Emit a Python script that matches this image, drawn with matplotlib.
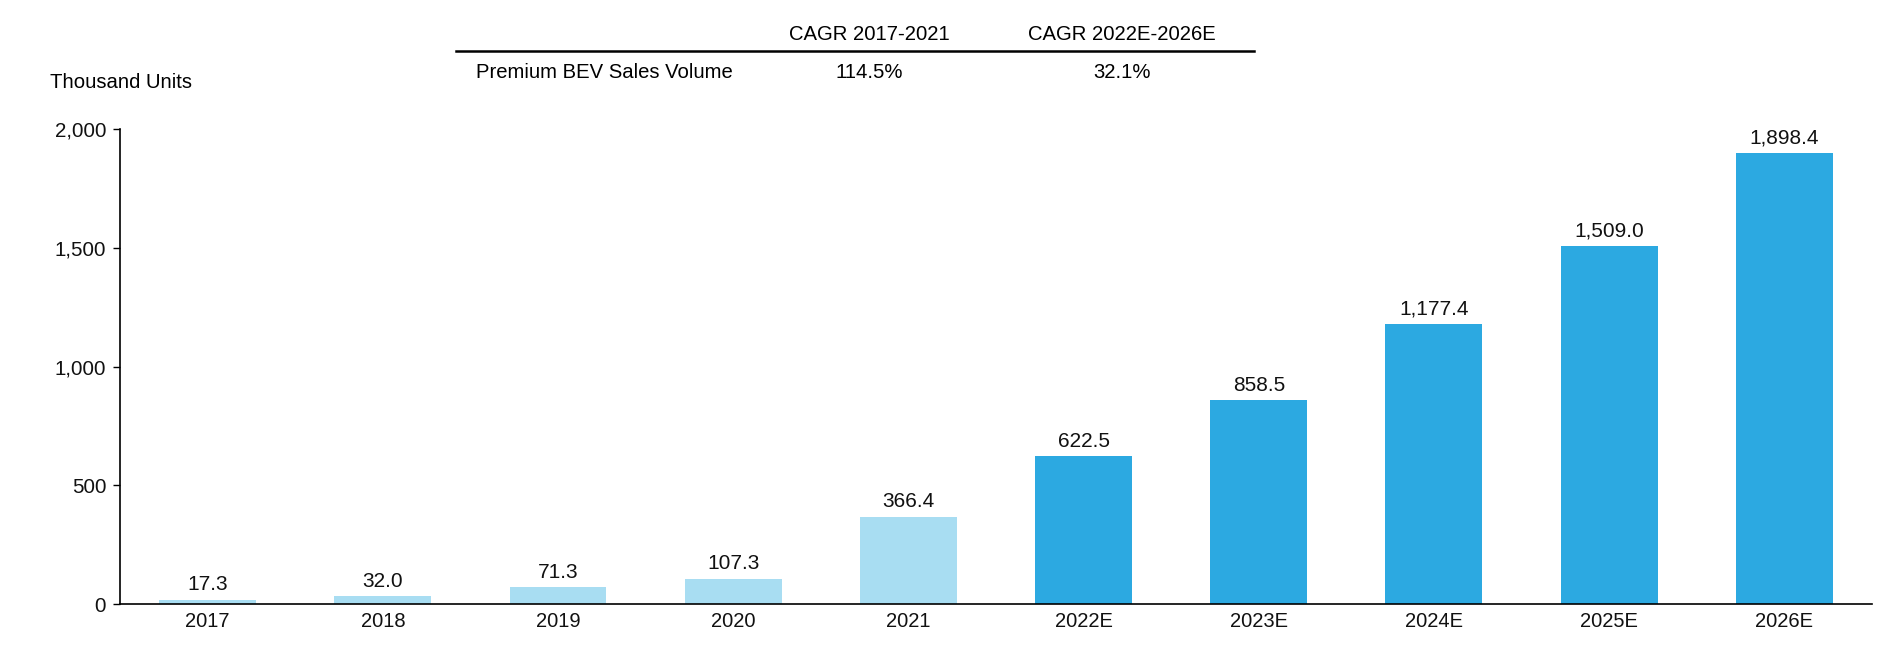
import matplotlib
matplotlib.use("Agg")
import matplotlib.pyplot as plt
from matplotlib.ticker import FuncFormatter

plt.rcParams["font.family"] = ["Liberation Sans", "DejaVu Sans"]

years = ["2017", "2018", "2019", "2020", "2021", "2022E", "2023E", "2024E", "2025E", "2026E"]
volumes = [17.3, 32.0, 71.3, 107.3, 366.4, 622.5, 858.5, 1177.4, 1509.0, 1898.4]
is_forecast = [False] * 5 + [True] * 5

cagr_headers = ["CAGR 2017-2021", "CAGR 2022E-2026E"]
cagr_row_label = "Premium BEV Sales Volume"
cagr_values = ["114.5%", "32.1%"]

LIGHT = "#A8DDF2"
DARK = "#2CA9E1"

fig = plt.figure(figsize=(19, 6.62), dpi=100)
ax = fig.add_axes([0.0632, 0.0876, 0.922, 0.7175])

colors = [DARK if f else LIGHT for f in is_forecast]
x = list(range(len(years)))
bars = ax.bar(x, volumes, width=0.553, color=colors)

for b, v in zip(bars, volumes):
    ax.annotate(f"{v:,.1f}", (b.get_x() + b.get_width() / 2, v),
                xytext=(0, 4), textcoords="offset points",
                ha="center", va="bottom", fontsize=15, color="#111111")

ax.set_xlim(-0.5, 9.5)
ax.set_ylim(0, 2000)
ax.set_yticks([0, 500, 1000, 1500, 2000])
ax.yaxis.set_major_formatter(FuncFormatter(lambda v, p: f"{v:,.0f}"))
ax.set_xticks(x)
ax.set_xticklabels(years)
ax.tick_params(axis="x", length=0, labelsize=14.5, pad=6, labelcolor="#111111")
ax.tick_params(axis="y", length=5, width=1, labelsize=14.8, pad=5, direction="out",
               labelcolor="#111111")
for s in ["top", "right"]:
    ax.spines[s].set_visible(False)
for s in ["left", "bottom"]:
    ax.spines[s].set_linewidth(1.2)
    ax.spines[s].set_color("black")

# unit label
fig.text(50 / 1900, 1 - 82 / 662, "Thousand Units", ha="left", va="center", fontsize=14.6)

# CAGR mini table
col_x = [869 / 1900, 1122 / 1900]
for cx, h, val in zip(col_x, cagr_headers, cagr_values):
    fig.text(cx, 1 - 34 / 662, h, ha="center", va="center", fontsize=14.6)
    fig.text(cx, 1 - 72 / 662, val, ha="center", va="center", fontsize=14.6)
fig.text(476 / 1900, 1 - 72 / 662, cagr_row_label, ha="left", va="center", fontsize=14.6)
fig.add_artist(plt.Line2D([456 / 1900, 1254 / 1900], [1 - 51 / 662, 1 - 51 / 662],
                          color="black", linewidth=1.8))

fig.savefig("out.png", dpi=100)
